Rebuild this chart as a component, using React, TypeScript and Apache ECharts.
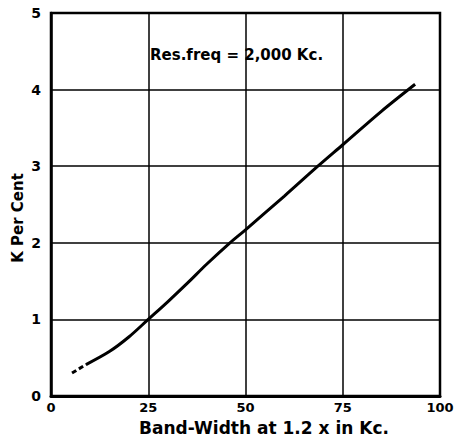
import React, { useEffect, useRef } from "react";
import * as echarts from "echarts";

const xTicks = [0, 25, 50, 75, 100];
const yTicks = [0, 1, 2, 3, 4, 5];
const dashedPart: [number, number][] = [
  [5.4, 0.3],
  [9, 0.41],
];
const solidPart: [number, number][] = [
  [9, 0.41],
  [15, 0.58],
  [20, 0.77],
  [25, 1.0],
  [30, 1.23],
  [35, 1.47],
  [40, 1.72],
  [46, 2.0],
  [50, 2.17],
  [60, 2.61],
  [68.6, 3.0],
  [75, 3.28],
  [85, 3.72],
  [93.6, 4.07],
];
const annotation = "Res.freq = 2,000 Kc.";
const xTitle = "Band-Width at 1.2 x in Kc.";
const yTitle = "K Per Cent";

export default function App() {
  const ref = useRef<HTMLDivElement>(null);
  useEffect(() => {
    if (!ref.current) return;
    const chart = echarts.init(ref.current, null, { renderer: "svg" });
    const font = "DejaVu Sans";
    chart.setOption({
      animation: false,
      backgroundColor: "#fff",
      grid: { left: 51, right: 20, top: 13, bottom: 41 },
      xAxis: {
        type: "value",
        min: 0,
        max: 100,
        interval: 25,
        axisLine: { show: true, lineStyle: { color: "#000", width: 3 } },
        axisTick: { show: false },
        axisLabel: {
          fontFamily: font,
          fontWeight: "bold",
          fontSize: 13,
          color: "#000",
          margin: 5,
          formatter: (v: number) => (xTicks.includes(v) ? String(v) : ""),
        },
        splitLine: { show: true, lineStyle: { color: "#000", width: 1.5 } },
      },
      yAxis: {
        type: "value",
        min: 0,
        max: 5,
        interval: 1,
        axisLine: { show: true, lineStyle: { color: "#000", width: 2.5 } },
        axisTick: { show: false },
        axisLabel: {
          fontFamily: font,
          fontWeight: "bold",
          fontSize: 14,
          color: "#000",
          margin: 10,
          formatter: (v: number) => (yTicks.includes(v) ? String(v) : ""),
        },
        splitLine: { show: true, lineStyle: { color: "#000", width: 1.5 } },
      },
      graphic: [
        {
          type: "rect",
          shape: { x: 51, y: 13, width: 389, height: 383 },
          style: { fill: "none", stroke: "#000", lineWidth: 2.5 },
          silent: true,
        },
        {
          type: "text",
          x: 150,
          y: 55,
          style: {
            text: annotation,
            fontFamily: font,
            fontWeight: "bold",
            fontSize: 15,
            fill: "#000",
            align: "left",
            verticalAlign: "middle",
          },
        },
        {
          type: "text",
          x: 264,
          y: 428,
          style: {
            text: xTitle,
            fontFamily: font,
            fontWeight: "bold",
            fontSize: 17,
            fill: "#000",
            align: "center",
            verticalAlign: "middle",
          },
        },
        {
          type: "text",
          x: 18,
          y: 218,
          rotation: Math.PI / 2,
          style: {
            text: yTitle,
            fontFamily: font,
            fontWeight: "bold",
            fontSize: 15,
            fill: "#000",
            align: "center",
            verticalAlign: "middle",
          },
        },
      ],
      series: [
        {
          type: "line",
          data: dashedPart,
          showSymbol: false,
          lineStyle: { color: "#000", width: 3, type: [5, 3] },
        },
        {
          type: "line",
          data: solidPart,
          showSymbol: false,
          smooth: 0.3,
          lineStyle: { color: "#000", width: 3 },
        },
      ],
    });
    return () => chart.dispose();
  }, []);
  return <div ref={ref} style={{ width: 460, height: 437, position: "absolute", left: 0, top: 0 }} />;
}
